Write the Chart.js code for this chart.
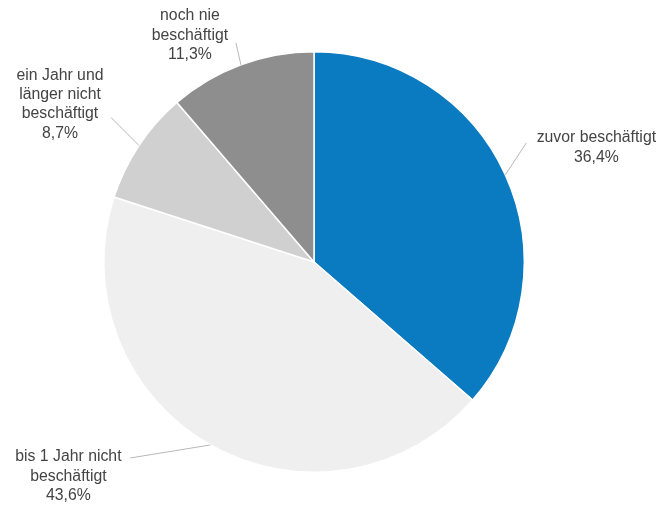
<!DOCTYPE html>
<html>
<head>
<meta charset="utf-8">
<script src="https://cdn.jsdelivr.net/npm/chart.js@4"></script>
<style>
  html, body { margin: 0; padding: 0; background: #fff; }
  #wrap { width: 664px; height: 506px; }
</style>
</head>
<body>
<div id="wrap"><canvas id="c" width="664" height="506"></canvas></div>
<script>
// Data
const categories = [
  ["zuvor beschäftigt"],
  ["bis 1 Jahr nicht", "beschäftigt"],
  ["ein Jahr und", "länger nicht", "beschäftigt"],
  ["noch nie", "beschäftigt"]
];
const values = [36.4, 43.6, 8.7, 11.3];
const colors = ["#0a7bc1", "#efefef", "#d0d0d0", "#8e8e8e"];

// Label placement (relative to the slice's outer mid point): leader end and text anchor
const labelLayout = [
  { lx: 21, ly: -32, tx: 91, ty: -37 },
  { lx: -80, ly: 13, tx: -142, ty: 12 },
  { lx: -28, ly: -28, tx: -79, ty: -70 },
  { lx: -5, ly: -22, tx: -51, ty: -49 }
];

const fmt = v => v.toFixed(1).replace('.', ',') + '%';

const labelPlugin = {
  id: 'pieLabels',
  afterDatasetsDraw(chart) {
    const ctx = chart.ctx;
    const meta = chart.getDatasetMeta(0);
    ctx.save();
    meta.data.forEach((arc, i) => {
      const p = arc.getProps(['x', 'y', 'startAngle', 'endAngle', 'outerRadius'], true);
      const mid = (p.startAngle + p.endAngle) / 2;
      const ex = p.x + Math.cos(mid) * p.outerRadius;
      const ey = p.y + Math.sin(mid) * p.outerRadius;
      const L = labelLayout[i];
      ctx.strokeStyle = '#b8b8b8';
      ctx.lineWidth = 1;
      ctx.beginPath();
      ctx.moveTo(ex, ey);
      ctx.lineTo(ex + L.lx, ey + L.ly);
      ctx.stroke();
      const lines = categories[i].concat([fmt(values[i])]);
      ctx.fillStyle = '#444444';
      ctx.font = '15.8px "Liberation Sans", Arial, sans-serif';
      ctx.textAlign = 'center';
      ctx.textBaseline = 'middle';
      lines.forEach((t, k) => {
        ctx.fillText(t, ex + L.tx, ey + L.ty + k * 19.3);
      });
    });
    ctx.restore();
  }
};

new Chart(document.getElementById('c'), {
  type: 'pie',
  data: {
    labels: categories.map(c => c.join(' ')),
    datasets: [{
      data: values,
      backgroundColor: colors,
      borderColor: '#ffffff',
      borderWidth: 1.5
    }]
  },
  options: {
    responsive: false,
    animation: false,
    layout: { padding: { top: 51, bottom: 33, left: 103, right: 139 } },
    plugins: {
      legend: { display: false },
      tooltip: { enabled: false }
    }
  },
  plugins: [labelPlugin]
});
</script>
</body>
</html>
